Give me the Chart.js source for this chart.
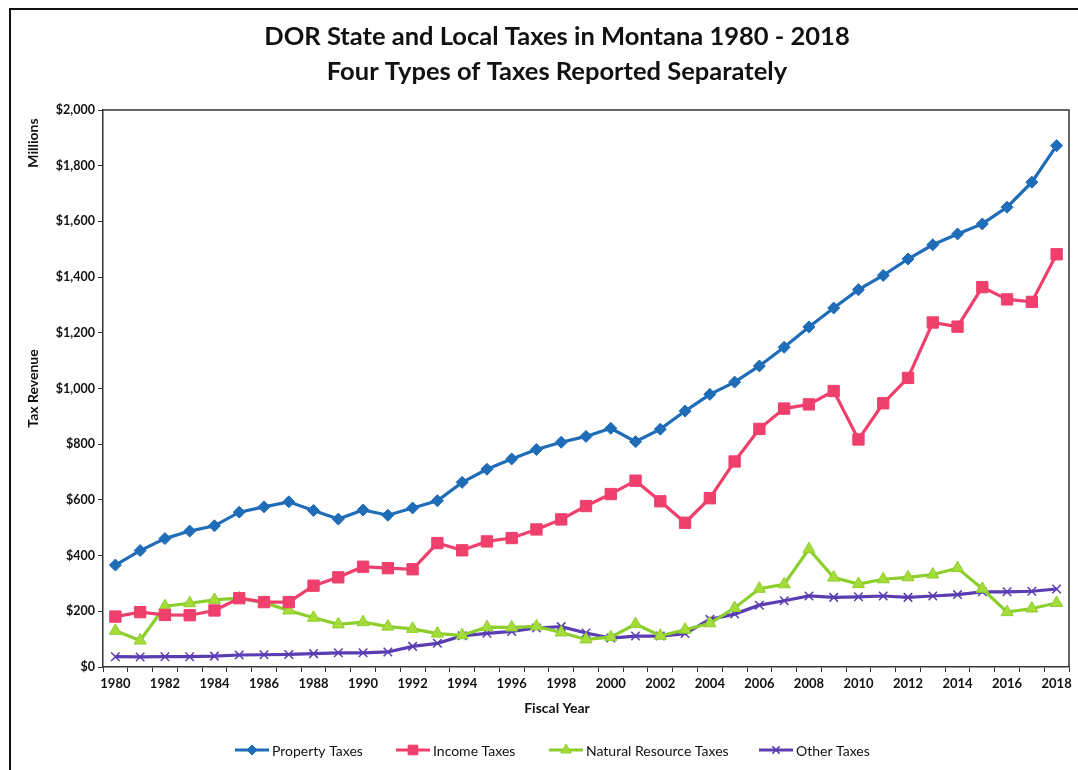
<!DOCTYPE html>
<html lang="en">
<head>
    <meta charset="UTF-8">
    <title>DOR State and Local Taxes in Montana 1980 - 2018</title>
    <script src="https://cdn.jsdelivr.net/npm/chart.js"></script>
    <style>
        html, body { margin: 0; padding: 0; background: #ffffff; overflow: hidden; }
        #wrap { position: relative; width: 1078px; height: 770px; }
    </style>
</head>
<body>
    <div id="wrap">
        <canvas id="taxChart" width="1078" height="770"></canvas>
    </div>

    <script>
        // Fiscal years 1980 - 2018
        const years = [];
        for (let y = 1980; y <= 2018; y++) years.push(String(y));

        // Tax revenue in millions of dollars
        const propertyTaxes = [366, 418, 461, 488, 507, 556, 575, 593, 562, 531,
                               564, 545, 571, 597, 663, 710, 747, 781, 807, 828,
                               857, 809, 854, 919, 979, 1023, 1081, 1148, 1221, 1289,
                               1355, 1406, 1465, 1516, 1555, 1591, 1651, 1741, 1872];
        const incomeTaxes = [181, 197, 187, 186, 203, 247, 233, 233, 292, 322,
                             360, 355, 351, 445, 419, 451, 463, 494, 530, 578,
                             621, 669, 595, 518, 606, 738, 855, 928, 943, 991,
                             817, 947, 1038, 1237, 1222, 1364, 1320, 1311, 1482];
        const naturalResourceTaxes = [130, 95, 218, 229, 241, 247, 231, 203, 177, 153,
                                      161, 145, 137, 120, 114, 143, 142, 146, 124, 99,
                                      107, 154, 112, 134, 157, 212, 281, 297, 423, 321,
                                      298, 315, 322, 332, 355, 281, 197, 210, 230];
        const otherTaxes = [37, 36, 37, 37, 39, 43, 44, 45, 48, 51,
                            51, 54, 74, 85, 112, 121, 128, 140, 145, 122,
                            104, 111, 111, 120, 171, 190, 222, 238, 255, 250,
                            252, 255, 250, 255, 260, 270, 270, 272, 280];

        const yTicks = [0, 200, 400, 600, 800, 1000, 1200, 1400, 1600, 1800, 2000];

        const FONT = 'Lato, "Open Sans", sans-serif';

        function series(label, data, color, fill, style, radius, pw) {
            return {
                label: label,
                data: data,
                borderColor: color,
                backgroundColor: fill,
                borderWidth: 3.2,
                pointStyle: style,
                pointRadius: radius,
                pointBorderColor: color,
                pointBackgroundColor: fill,
                pointBorderWidth: pw,
                tension: 0
            };
        }

        const datasets = [
            series('Property Taxes', propertyTaxes, '#1f6cb8', '#1f6cb8', 'rectRot', 6, 1),
            series('Income Taxes', incomeTaxes, '#ef3f6c', '#ef3f6c', 'rect', 8, 1),
            series('Natural Resource Taxes', naturalResourceTaxes, '#8ccf2c', '#a6dc3a', 'triangle', 7, 1),
            series('Other Taxes', otherTaxes, '#5a3db3', '#8a73d0', 'crossRot', 6, 1.5)
        ];

        // titles, outer frame, plot frame and legend
        const decorations = {
            id: 'decorations',
            beforeDraw(chart) {
                const ctx = chart.ctx;
                ctx.save();
                ctx.fillStyle = '#ffffff';
                ctx.fillRect(0, 0, chart.width, chart.height);
                ctx.restore();
            },
            afterDraw(chart) {
                const ctx = chart.ctx;
                const a = chart.chartArea;
                ctx.save();

                // outer chart border
                ctx.strokeStyle = '#111111';
                ctx.lineWidth = 2;
                ctx.strokeRect(10, 9, 1110, 820);

                // plot area border (top and right)
                ctx.strokeStyle = '#333333';
                ctx.lineWidth = 1.5;
                ctx.beginPath();
                ctx.moveTo(a.left, a.top);
                ctx.lineTo(a.right, a.top);
                ctx.lineTo(a.right, a.bottom);
                ctx.stroke();

                // chart title
                ctx.fillStyle = '#111111';
                ctx.textAlign = 'center';
                ctx.textBaseline = 'middle';
                ctx.font = 'bold 25.5px ' + FONT;
                ctx.fillText('DOR State and Local Taxes in Montana 1980 - 2018', 557, 37);
                ctx.fillText('Four Types of Taxes Reported Separately', 557, 72);

                // axis captions
                ctx.font = 'bold 14px ' + FONT;
                ctx.fillText('Fiscal Year', 557, 708);
                ctx.save();
                ctx.translate(33, 143);
                ctx.rotate(-Math.PI / 2);
                ctx.fillText('Millions', 0, 0);
                ctx.restore();

                // legend
                ctx.font = '14px ' + FONT;
                ctx.textAlign = 'left';
                const legendX = [235, 396, 549, 759];
                chart.data.datasets.forEach((ds, i) => {
                    const x = legendX[i];
                    const y = 750;
                    ctx.strokeStyle = ds.borderColor;
                    ctx.lineWidth = 3;
                    ctx.beginPath();
                    ctx.moveTo(x, y);
                    ctx.lineTo(x + 34, y);
                    ctx.stroke();
                    ctx.fillStyle = ds.pointBackgroundColor;
                    ctx.strokeStyle = ds.borderColor;
                    ctx.lineWidth = ds.pointBorderWidth;
                    Chart.helpers.drawPoint(ctx, {
                        pointStyle: ds.pointStyle,
                        radius: ds.pointRadius * 0.85,
                        borderWidth: ds.pointBorderWidth,
                        rotation: 0
                    }, x + 17, y);
                    ctx.fillStyle = '#111111';
                    ctx.fillText(ds.label, x + 37, y + 1);
                });
                ctx.restore();
            }
        };

        const ctx = document.getElementById('taxChart').getContext('2d');
        const taxChart = new Chart(ctx, {
            type: 'line',
            data: { labels: years, datasets: datasets },
            plugins: [decorations],
            options: {
                responsive: false,
                animation: false,
                layout: { padding: { left: 20, right: 8, top: 110, bottom: 53 } },
                plugins: {
                    legend: { display: false },
                    title: { display: false },
                    tooltip: { enabled: false }
                },
                scales: {
                    x: {
                        type: 'category',
                        offset: true,
                        grid: {
                            display: true,
                            offset: true,
                            drawOnChartArea: false,
                            drawTicks: true,
                            tickLength: 5,
                            color: '#333333',
                            lineWidth: 1
                        },
                        border: { display: true, color: '#333333', width: 1.5 },
                        ticks: {
                            autoSkip: false,
                            maxRotation: 0,
                            padding: 4,
                            color: '#111111',
                            font: { family: FONT, size: 13, weight: 'bold' },
                            callback: function (value, index) {
                                return index % 2 === 0 ? years[index] : '';
                            }
                        },
                        afterFit: function (scale) { scale.height = 50; }
                    },
                    y: {
                        min: 0,
                        max: 2000,
                        afterBuildTicks: function (scale) {
                            scale.ticks = yTicks.map(v => ({ value: v }));
                        },
                        grid: {
                            display: true,
                            drawOnChartArea: false,
                            drawTicks: true,
                            tickLength: 5,
                            color: '#333333'
                        },
                        border: { display: true, color: '#333333', width: 1.5 },
                        ticks: {
                            padding: 3,
                            color: '#111111',
                            font: { family: FONT, size: 12.5, weight: 'bold' },
                            callback: function (value) {
                                return '$' + value.toLocaleString('en-US');
                            }
                        },
                        title: {
                            display: true,
                            text: 'Tax Revenue',
                            color: '#111111',
                            padding: { top: 5, bottom: 0 },
                            font: { family: FONT, size: 14, weight: 'bold' }
                        },
                        afterFit: function (scale) { scale.width = 83; }
                    }
                }
            }
        });
    </script>
</body>
</html>
